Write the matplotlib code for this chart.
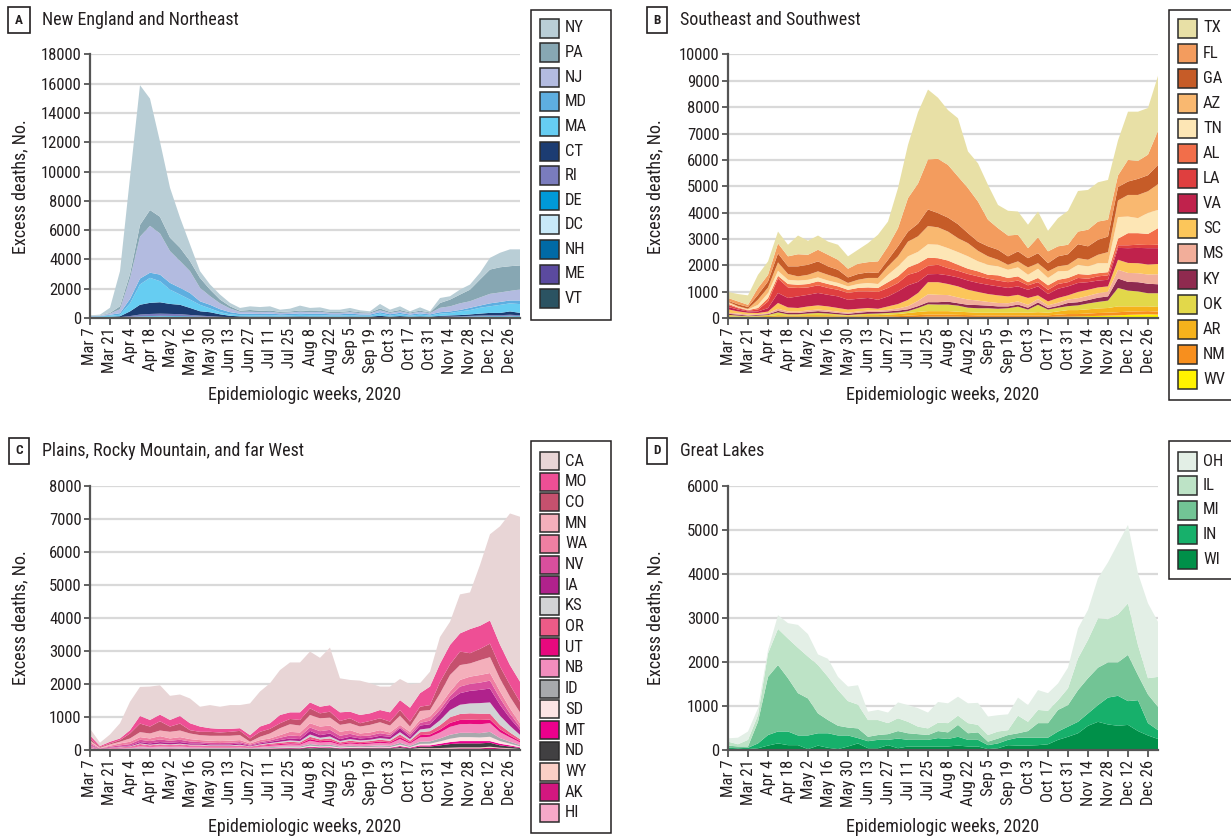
import matplotlib
matplotlib.use("Agg")
import matplotlib.pyplot as plt
from matplotlib import font_manager
from matplotlib.patches import Rectangle

W, H = 1231, 836

# pick a condensed sans font when one is installed (reference uses a condensed face)
_entries = font_manager.fontManager.ttflist
_names = {f.name for f in _entries}
_cond_family = None
_stretch = 'normal'
for nm in ['Liberation Sans Narrow', 'Roboto Condensed', 'Open Sans Condensed',
           'Noto Sans Condensed', 'DejaVu Sans Condensed']:
    if nm in _names:
        _cond_family = nm
        break
if _cond_family is None:
    for nm in ['Noto Sans', 'Roboto', 'Open Sans', 'DejaVu Sans']:
        if any(f.name == nm and 'condensed' in str(f.stretch) and str(f.style) == 'normal'
               for f in _entries):
            _cond_family = nm
            _stretch = 'condensed'
            break

if _cond_family is not None:
    plt.rcParams['font.family'] = [_cond_family, 'DejaVu Sans']
    plt.rcParams['font.stretch'] = _stretch
    FS_TICK, FS_LAB, FS_TITLE, FS_LEG, FS_LET = 12, 13, 13, 12, 9.5
else:
    plt.rcParams['font.family'] = ['DejaVu Sans']
    FS_TICK, FS_LAB, FS_TITLE, FS_LEG, FS_LET = 10, 11, 11, 10.5, 8.5

# ---------------- data ----------------
weeks = list(range(44))  # epidemiologic weeks from Mar 7, 2020 to Jan 2, 2021
tick_labels = ['Mar 7', 'Mar 21', 'Apr 4', 'Apr 18', 'May 2', 'May 16', 'May 30',
               'Jun 13', 'Jun 27', 'Jul 11', 'Jul 25', 'Aug 8', 'Aug 22', 'Sep 5',
               'Sep 19', 'Oct 3', 'Oct 17', 'Oct 31', 'Nov 14', 'Nov 28', 'Dec 12', 'Dec 26']

# Panel A: New England and Northeast (legend order = top of stack first)
states_a = ['NY', 'PA', 'NJ', 'MD', 'MA', 'CT', 'RI', 'DE', 'DC', 'NH', 'ME', 'VT']
colors_a = ['#b9ced6', '#87a7b3', '#b3bbe0', '#5eaee0', '#66cdf2', '#1c3c72',
            '#7a7cbd', '#0099d8', '#c8e9f8', '#006aa6', '#5b4a9f', '#2b5362']
NY = [30, 50, 350, 2400, 6600, 9550, 7610, 5130, 3410, 2060, 1140, 460, 350, 340, 230, 190, 250, 250, 280, 150, 190, 330, 210, 230, 150, 150, 210, 130, 80, 310, 150, 250, 80, 230, 80, 340, 230, 340, 350, 460, 800, 990, 1150, 1100]
PA = [20, 20, 50, 200, 300, 800, 1080, 1140, 920, 910, 690, 680, 450, 260, 150, 80, 120, 100, 100, 70, 70, 90, 80, 80, 70, 70, 80, 70, 60, 130, 70, 100, 60, 80, 50, 330, 460, 600, 790, 1230, 1660, 1720, 1690, 1640]
NJ = [20, 30, 80, 270, 1400, 2860, 3200, 2810, 2170, 1830, 1490, 920, 590, 400, 250, 120, 130, 120, 120, 90, 100, 110, 100, 120, 90, 90, 100, 80, 80, 120, 90, 100, 80, 100, 80, 300, 350, 450, 450, 550, 650, 650, 650, 750]
MD = [20, 30, 60, 110, 300, 400, 350, 450, 460, 460, 450, 240, 250, 200, 150, 100, 100, 90, 100, 90, 90, 100, 100, 100, 90, 90, 100, 90, 80, 100, 90, 100, 80, 90, 80, 100, 100, 100, 150, 150, 200, 200, 200, 250]
MA = [40, 40, 80, 100, 550, 1390, 1710, 1440, 980, 700, 570, 440, 260, 150, 100, 90, 100, 90, 100, 80, 90, 110, 100, 100, 80, 80, 100, 70, 70, 150, 80, 120, 70, 120, 80, 150, 170, 250, 300, 400, 450, 550, 550, 600]
CT = [20, 30, 40, 60, 320, 670, 760, 780, 680, 640, 480, 300, 270, 170, 90, 60, 50, 50, 50, 40, 50, 60, 50, 50, 40, 40, 50, 40, 40, 90, 40, 70, 40, 50, 40, 60, 80, 80, 100, 130, 160, 150, 230, 160]
RI = [5, 5, 10, 20, 60, 120, 140, 150, 140, 130, 100, 70, 50, 30, 20, 10, 10, 10, 10, 10, 10, 10, 10, 10, 10, 10, 10, 10, 10, 15, 10, 15, 10, 15, 10, 20, 25, 30, 40, 50, 60, 60, 70, 60]
DE = [5, 5, 5, 10, 20, 30, 35, 40, 40, 40, 35, 30, 25, 15, 10, 8, 8, 8, 8, 8, 8, 8, 8, 8, 8, 8, 8, 8, 8, 10, 8, 10, 8, 10, 8, 15, 15, 20, 25, 25, 30, 30, 30, 30]
DC = [5, 5, 10, 10, 20, 40, 50, 50, 45, 40, 30, 25, 20, 15, 10, 8, 8, 8, 8, 8, 8, 8, 8, 8, 8, 8, 8, 8, 8, 10, 8, 10, 8, 10, 8, 10, 10, 15, 15, 20, 20, 20, 25, 20]
NH = [5, 5, 5, 10, 15, 20, 25, 30, 30, 30, 25, 20, 15, 10, 8, 8, 8, 8, 8, 8, 8, 8, 8, 8, 8, 8, 8, 8, 8, 10, 8, 10, 8, 10, 8, 15, 20, 25, 30, 35, 40, 40, 45, 40]
ME = [5, 5, 5, 5, 10, 15, 15, 15, 15, 15, 10, 10, 10, 8, 8, 8, 8, 8, 8, 8, 8, 8, 8, 8, 8, 8, 8, 8, 8, 10, 8, 10, 8, 10, 8, 15, 15, 20, 20, 25, 25, 30, 30, 25]
VT = [5, 5, 5, 5, 8, 10, 10, 10, 10, 8, 8, 6, 5, 5, 5, 5, 5, 5, 5, 5, 5, 5, 5, 5, 5, 5, 5, 5, 5, 5, 5, 5, 5, 5, 5, 10, 10, 10, 15, 15, 15, 15, 20, 15]
values_a = [NY, PA, NJ, MD, MA, CT, RI, DE, DC, NH, ME, VT]

# Panel B: Southeast and Southwest
states_b = ['TX', 'FL', 'GA', 'AZ', 'TN', 'AL', 'LA', 'VA', 'SC', 'MS', 'KY', 'OK', 'AR', 'NM', 'WV']
colors_b = ['#e8e0a6', '#f39c5e', '#c65c28', '#f9b870', '#fde6b5', '#f26e4a', '#df3f3f',
            '#c0224c', '#fcc65a', '#f2ae9a', '#8f2a4f', '#e2d84a', '#f5b21c', '#f78f1e', '#fff200']
TX = [230, 280, 360, 500, 510, 450, 440, 710, 530, 540, 500, 570, 470, 530, 720, 1010, 940, 1520, 2020, 2710, 2650, 2320, 2080, 2210, 1390, 1450, 1320, 880, 940, 880, 890, 980, 780, 1070, 1290, 1540, 1510, 1490, 1510, 1330, 1830, 1870, 1770, 2090]
FL = [110, 110, 80, 260, 250, 380, 380, 460, 380, 440, 440, 380, 330, 390, 390, 440, 510, 690, 1270, 1520, 1900, 2060, 2000, 1810, 1710, 1520, 1010, 820, 790, 630, 380, 600, 450, 380, 360, 480, 630, 690, 640, 440, 820, 680, 780, 1290]
GA = [30, 70, 70, 180, 230, 340, 290, 380, 380, 380, 320, 310, 210, 220, 210, 190, 250, 380, 380, 480, 630, 540, 530, 530, 380, 350, 380, 380, 320, 380, 350, 380, 310, 380, 400, 530, 510, 570, 590, 510, 510, 610, 610, 730]
AZ = [40, 30, 30, 200, 210, 320, 220, 160, 190, 230, 220, 190, 130, 160, 190, 230, 320, 380, 560, 590, 690, 660, 630, 530, 500, 400, 320, 250, 190, 230, 280, 210, 250, 190, 230, 250, 250, 320, 420, 630, 820, 880, 820, 980]
TN = [40, 20, 20, 120, 190, 190, 160, 160, 160, 150, 130, 130, 130, 150, 170, 150, 280, 380, 420, 440, 510, 510, 470, 480, 470, 380, 380, 340, 310, 340, 280, 350, 280, 320, 270, 350, 320, 380, 340, 820, 630, 570, 800, 690]
AL = [40, 30, 20, 60, 130, 100, 130, 120, 130, 150, 150, 130, 120, 130, 150, 150, 220, 250, 280, 320, 310, 250, 290, 230, 200, 190, 150, 200, 160, 160, 120, 160, 170, 160, 160, 150, 150, 120, 120, 250, 460, 440, 420, 630]
LA = [80, 50, 30, 70, 250, 550, 400, 320, 280, 290, 260, 250, 260, 280, 250, 300, 320, 320, 400, 380, 320, 350, 270, 250, 250, 250, 230, 220, 220, 220, 170, 160, 160, 180, 160, 190, 130, 160, 170, 100, 110, 120, 120, 130]
VA = [90, 70, 50, 60, 130, 380, 360, 440, 440, 470, 440, 440, 370, 380, 380, 340, 380, 480, 550, 420, 300, 310, 330, 340, 350, 340, 350, 340, 320, 320, 310, 340, 280, 350, 340, 340, 290, 260, 250, 450, 560, 580, 620, 600]
SC = [130, 80, 70, 50, 60, 220, 150, 140, 150, 160, 150, 140, 120, 100, 100, 70, 130, 170, 240, 300, 460, 480, 420, 420, 370, 330, 300, 290, 260, 250, 260, 140, 150, 180, 160, 240, 230, 220, 200, 380, 380, 380, 380, 390]
MS = [40, 40, 40, 20, 40, 80, 60, 50, 60, 60, 60, 50, 40, 50, 50, 50, 60, 80, 120, 200, 300, 280, 250, 220, 200, 170, 140, 130, 120, 120, 110, 130, 100, 120, 130, 150, 160, 170, 180, 330, 340, 340, 350, 380]
KY = [40, 40, 20, 30, 30, 60, 50, 50, 60, 70, 60, 50, 50, 60, 70, 60, 60, 70, 70, 70, 80, 90, 110, 90, 110, 120, 100, 90, 70, 80, 70, 90, 60, 70, 120, 120, 130, 160, 160, 360, 330, 350, 360, 340]
OK = [60, 40, 30, 30, 40, 100, 40, 40, 60, 80, 60, 40, 20, 40, 50, 60, 60, 60, 70, 150, 260, 250, 250, 230, 170, 170, 170, 150, 170, 220, 120, 280, 120, 140, 150, 180, 220, 250, 280, 700, 600, 570, 500, 520]
AR = [30, 20, 20, 30, 40, 60, 50, 50, 60, 60, 60, 50, 40, 50, 60, 60, 70, 80, 100, 120, 130, 130, 130, 120, 110, 100, 100, 100, 100, 110, 100, 120, 100, 120, 150, 150, 160, 170, 180, 220, 200, 190, 180, 180]
NM = [20, 20, 10, 20, 20, 30, 30, 30, 30, 30, 30, 30, 30, 30, 30, 30, 40, 50, 60, 70, 80, 80, 80, 70, 70, 60, 60, 60, 60, 60, 60, 60, 60, 80, 100, 90, 100, 110, 110, 120, 120, 120, 120, 110]
WV = [10, 10, 10, 10, 15, 20, 20, 20, 20, 20, 20, 20, 20, 20, 20, 20, 20, 20, 30, 40, 50, 50, 50, 50, 40, 40, 40, 40, 40, 40, 40, 40, 40, 50, 50, 60, 70, 80, 90, 100, 120, 130, 140, 130]
values_b = [TX, FL, GA, AZ, TN, AL, LA, VA, SC, MS, KY, OK, AR, NM, WV]

# Panel C: Plains, Rocky Mountain, and far West
states_c = ['CA', 'MO', 'CO', 'MN', 'WA', 'NV', 'IA', 'KS', 'OR', 'UT', 'NB', 'ID', 'SD', 'MT', 'ND', 'WY', 'AK', 'HI']
colors_c = ['#e8d5d6', '#ee4f95', '#c5516e', '#f4afbb', '#ef7fa2', '#d94f9d', '#b0228c', '#d2d3d5',
            '#ec5b87', '#e8097e', '#f28dbd', '#a7a9ac', '#fde4e4', '#ec008c', '#414042', '#fbcfc6',
            '#d3177f', '#f6a8c8']
CA = [200, 100, 220, 460, 860, 880, 1010, 890, 730, 650, 750, 600, 700, 670, 720, 700, 960, 1060, 1210, 1360, 1510, 1510, 1540, 1480, 1740, 1030, 960, 1040, 910, 710, 780, 640, 710, 300, 450, 810, 700, 1180, 1110, 1840, 2610, 3580, 4590, 4990]
MO = [100, 30, 50, 50, 100, 230, 200, 200, 200, 230, 210, 160, 110, 110, 90, 80, 100, 160, 170, 250, 200, 230, 180, 200, 200, 260, 200, 250, 230, 250, 280, 300, 420, 410, 560, 550, 590, 550, 730, 700, 700, 660, 600, 610]
CO = [50, 20, 30, 50, 150, 260, 210, 280, 160, 210, 100, 100, 120, 100, 120, 130, 100, 150, 140, 150, 160, 170, 200, 150, 180, 120, 150, 100, 120, 120, 120, 170, 150, 130, 150, 350, 320, 410, 310, 340, 410, 370, 360, 320]
MN = [50, 20, 40, 50, 100, 150, 150, 170, 200, 200, 170, 150, 150, 160, 150, 150, 50, 100, 150, 210, 230, 210, 250, 250, 240, 210, 210, 210, 230, 240, 210, 280, 160, 270, 200, 360, 500, 450, 400, 450, 480, 380, 350, 330]
WA = [60, 10, 30, 60, 70, 80, 80, 100, 70, 80, 70, 60, 60, 60, 60, 60, 40, 60, 60, 80, 110, 110, 130, 140, 130, 120, 110, 80, 90, 90, 70, 60, 80, 90, 120, 130, 140, 200, 220, 230, 230, 210, 160, 110]
NV = [40, 10, 30, 40, 50, 70, 70, 80, 60, 70, 60, 40, 50, 40, 50, 40, 30, 40, 40, 70, 90, 90, 100, 120, 110, 100, 90, 70, 70, 80, 60, 40, 70, 80, 110, 120, 120, 200, 210, 220, 240, 200, 140, 90]
IA = [20, 5, 10, 10, 20, 40, 40, 50, 50, 50, 40, 40, 30, 30, 30, 40, 20, 30, 40, 50, 60, 60, 110, 80, 90, 60, 70, 60, 60, 70, 70, 120, 70, 120, 120, 200, 300, 350, 380, 400, 420, 330, 230, 150]
KS = [10, 5, 5, 10, 10, 20, 20, 20, 20, 20, 20, 20, 20, 20, 20, 20, 10, 20, 20, 30, 40, 40, 70, 50, 60, 40, 50, 40, 40, 50, 50, 70, 50, 80, 90, 150, 220, 280, 300, 320, 340, 280, 200, 130]
OR = [20, 5, 10, 15, 20, 35, 25, 30, 25, 30, 25, 25, 20, 20, 20, 25, 20, 25, 35, 40, 45, 40, 70, 55, 60, 40, 50, 45, 45, 55, 50, 80, 50, 90, 100, 130, 170, 180, 190, 190, 180, 130, 90, 60]
UT = [15, 2, 5, 10, 10, 20, 15, 20, 15, 20, 15, 15, 15, 15, 15, 15, 10, 20, 25, 30, 35, 30, 50, 40, 45, 30, 35, 30, 35, 40, 35, 60, 35, 70, 70, 90, 120, 130, 130, 130, 110, 90, 60, 40]
NB = [30, 5, 15, 20, 25, 45, 35, 45, 35, 45, 35, 35, 30, 30, 30, 35, 25, 35, 45, 50, 60, 55, 100, 80, 85, 55, 70, 60, 65, 75, 70, 115, 70, 130, 140, 180, 240, 260, 270, 270, 260, 180, 130, 80]
ID = [15, 2, 5, 10, 10, 25, 15, 20, 20, 20, 15, 15, 15, 15, 15, 15, 10, 20, 25, 25, 30, 30, 50, 40, 45, 30, 35, 30, 35, 40, 35, 55, 35, 65, 70, 90, 120, 130, 130, 130, 150, 90, 60, 40]
SD = [5, 1, 5, 5, 5, 10, 10, 15, 10, 15, 10, 10, 10, 10, 10, 10, 10, 10, 15, 20, 20, 20, 30, 25, 30, 20, 25, 20, 20, 25, 20, 40, 20, 45, 50, 70, 100, 120, 120, 110, 130, 80, 50, 30]
MT = [10, 1, 5, 5, 10, 15, 10, 15, 15, 15, 10, 10, 10, 10, 10, 10, 5, 10, 15, 15, 15, 15, 25, 20, 20, 15, 15, 15, 15, 20, 15, 30, 20, 35, 35, 50, 60, 70, 70, 70, 50, 50, 35, 20]
ND = [5, 1, 2, 5, 5, 10, 10, 10, 10, 10, 10, 10, 5, 5, 5, 10, 5, 10, 10, 15, 15, 15, 30, 25, 25, 15, 20, 20, 20, 20, 20, 40, 20, 45, 50, 80, 110, 120, 120, 120, 120, 70, 50, 30]
WY = [5, 1, 2, 2, 5, 10, 5, 5, 5, 5, 5, 5, 5, 5, 5, 5, 5, 5, 5, 5, 10, 10, 15, 10, 15, 10, 10, 10, 10, 10, 10, 15, 10, 20, 20, 20, 30, 30, 30, 30, 30, 20, 20, 10]
AK = [5, 1, 3, 3, 5, 5, 5, 5, 5, 5, 5, 5, 5, 5, 5, 5, 5, 5, 5, 10, 10, 5, 15, 15, 15, 10, 10, 10, 10, 10, 10, 15, 10, 20, 20, 25, 30, 30, 30, 30, 40, 25, 20, 10]
HI = [5, 1, 3, 5, 5, 5, 10, 5, 10, 5, 10, 10, 5, 5, 5, 10, 5, 10, 10, 10, 10, 10, 15, 10, 10, 5, 10, 10, 15, 15, 15, 20, 10, 20, 15, 15, 10, 20, 20, 20, 30, 25, 15, 10]
values_c = [CA, MO, CO, MN, WA, NV, IA, KS, OR, UT, NB, ID, SD, MT, ND, WY, AK, HI]

# Panel D: Great Lakes
states_d = ['OH', 'IL', 'MI', 'IN', 'WI']
colors_d = ['#e3efe6', '#bde3c6', '#72c495', '#17b06b', '#009049']
OH = [75, 150, 190, 160, 80, 310, 350, 520, 510, 240, 410, 300, 330, 440, 190, 230, 240, 360, 380, 420, 360, 470, 450, 430, 450, 500, 420, 370, 360, 410, 380, 450, 400, 380, 470, 680, 680, 910, 1290, 1610, 1780, 1630, 1700, 1250]
IL = [90, 50, 150, 150, 530, 820, 900, 1030, 950, 1100, 980, 810, 600, 540, 380, 340, 250, 290, 260, 170, 150, 190, 210, 210, 230, 170, 150, 160, 110, 400, 210, 300, 280, 220, 380, 720, 870, 1120, 980, 1090, 1170, 680, 370, 680]
MI = [50, 40, 30, 490, 1320, 1510, 1210, 960, 840, 450, 300, 220, 180, 220, 100, 110, 130, 170, 150, 130, 110, 160, 150, 270, 150, 170, 80, 110, 110, 100, 150, 330, 330, 490, 490, 720, 800, 850, 800, 760, 1050, 570, 650, 530]
IN = [30, 20, 30, 110, 240, 270, 310, 220, 310, 280, 330, 310, 250, 120, 160, 190, 120, 220, 150, 150, 150, 190, 170, 200, 150, 150, 90, 110, 120, 180, 180, 170, 150, 190, 230, 260, 280, 380, 610, 680, 540, 700, 280, 200]
WI = [20, 20, 20, 40, 100, 150, 110, 110, 20, 100, 50, 20, 80, 150, 40, 40, 110, 40, 80, 80, 80, 80, 80, 100, 80, 80, 20, 40, 110, 100, 100, 110, 130, 230, 300, 380, 550, 640, 580, 550, 570, 430, 330, 250]
values_d = [OH, IL, MI, IN, WI]

# ---------------- drawing ----------------
fig = plt.figure(figsize=(W / 100, H / 100), dpi=100)
TXT = '#231f20'
AXC = '#555555'


def fx(px):
    return px / W


def fy(py):
    return 1 - py / H


def legend_box(states, colors, frame, first_y, step, sw_h):
    x0, y0, x1, y1 = frame
    fig.add_artist(Rectangle((fx(x0), fy(y1)), (x1 - x0) / W, (y1 - y0) / H,
                             transform=fig.transFigure, facecolor='white',
                             edgecolor='#231f20', linewidth=1.1, zorder=5))
    sw_w = 19
    for k, (s, c) in enumerate(zip(states, colors)):
        yc = first_y + k * step
        fig.add_artist(Rectangle((fx(x0 + 9), fy(yc + sw_h / 2)), sw_w / W, sw_h / H,
                                 transform=fig.transFigure, facecolor=c,
                                 edgecolor='#2b2b2b', linewidth=1.1, zorder=6))
        fig.text(fx(x0 + 9 + sw_w + 6), fy(yc), s, ha='left', va='center',
                 fontsize=FS_LEG, color=TXT, zorder=7)


def panel(letter, title, box, states, values, colors, ymax, ystep, title_xy, ylab_x, xlab_y):
    left, top, right, bottom = box
    ax = fig.add_axes([fx(left), fy(bottom), (right - left) / W, (bottom - top) / H])
    ax.stackplot(weeks, *list(reversed(values)), colors=list(reversed(colors)),
                 linewidth=0, edgecolor='none', antialiased=True)
    ax.set_xlim(0, 43)
    ax.set_ylim(0, ymax)
    ax.set_axisbelow(True)
    ax.yaxis.grid(True, color='#d9d9d9', linewidth=1.6)
    ax.xaxis.grid(False)
    for s in ['top', 'right']:
        ax.spines[s].set_visible(False)
    for s in ['left', 'bottom']:
        ax.spines[s].set_color(AXC)
        ax.spines[s].set_linewidth(1.6)
    ax.set_xticks(list(range(0, 43, 2)))
    ax.set_xticklabels(tick_labels, rotation=90)
    ax.set_yticks(list(range(0, ymax + 1, ystep)))
    ax.tick_params(axis='x', length=5, width=1.3, color=AXC, labelsize=FS_TICK,
                   labelcolor=TXT, pad=2)
    ax.tick_params(axis='y', length=4, width=1.3, color=AXC, labelsize=FS_TICK,
                   labelcolor=TXT, pad=2)

    tx, ty = title_xy
    fig.text(fx(tx), fy(ty), letter, ha='center', va='center', fontsize=FS_LET,
             fontweight='bold', color=TXT,
             bbox=dict(boxstyle='square,pad=0.5', fc='white', ec='#231f20', lw=1.2))
    fig.text(fx(tx + 23), fy(ty), title, ha='left', va='center', fontsize=FS_TITLE, color=TXT)

    fig.text(fx(ylab_x), fy((top + bottom) / 2), 'Excess deaths, No.', rotation=90,
             ha='center', va='center', fontsize=FS_LAB, color=TXT)
    fig.text(fx((left + right) / 2), fy(xlab_y), 'Epidemiologic weeks, 2020',
             ha='center', va='center', fontsize=FS_LAB, color=TXT)
    return ax


panel('A', 'New England and Northeast', (90, 54.5, 520, 318), states_a, values_a, colors_a,
      18000, 2000, (19, 20), 20, 395)
panel('B', 'Southeast and Southwest', (728, 54.5, 1158, 318), states_b, values_b, colors_b,
      10000, 1000, (657, 20), 655, 395)
panel('C', 'Plains, Rocky Mountain, and far West', (90, 485.7, 520, 750), states_c, values_c,
      colors_c, 8000, 1000, (19, 451), 20, 827)
panel('D', 'Great Lakes', (728, 485.7, 1158, 750), states_d, values_d, colors_d,
      6000, 1000, (657, 451), 655, 827)

legend_box(states_a, colors_a, (531, 10, 611, 320), 28, 24.6, 19)
legend_box(states_b, colors_b, (1169, 10, 1245, 400), 28, 25.1, 19)
legend_box(states_c, colors_c, (531, 441, 611, 833), 461, 20.7, 18)
legend_box(states_d, colors_d, (1169, 441, 1245, 579), 461, 24.5, 19)

fig.savefig('out.png', dpi=100, facecolor='white')
